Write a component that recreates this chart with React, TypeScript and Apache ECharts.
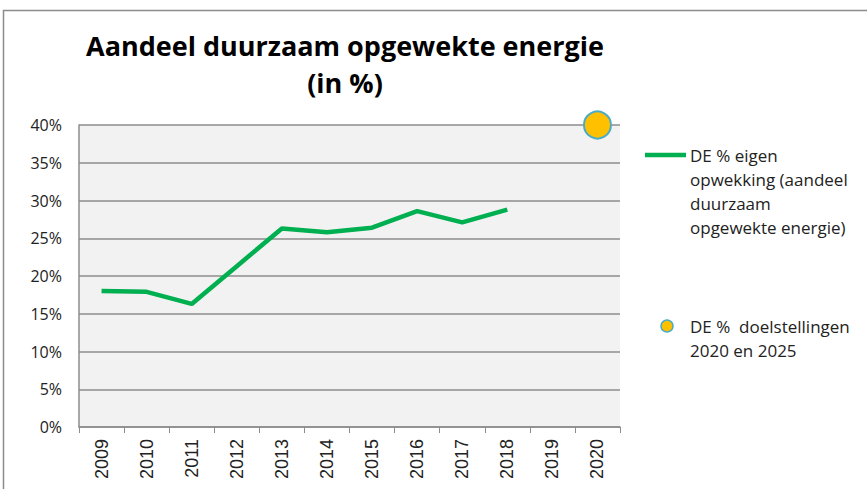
import React, { useEffect, useRef } from "react";
import * as echarts from "echarts";

const years = ["2009", "2010", "2011", "2012", "2013", "2014", "2015", "2016", "2017", "2018", "2019", "2020"];
const eigenOpwekking = [18.0, 17.9, 16.3, 21.3, 26.3, 25.8, 26.4, 28.6, 27.1, 28.8, null, null];
const doelstellingen = [null, null, null, null, null, null, null, null, null, null, null, 40];
const titleLines = ["Aandeel duurzaam opgewekte energie", "(in %)"];
const legendLine = ["DE % eigen", "opwekking (aandeel", "duurzaam", "opgewekte energie)"];
const legendDot = ["DE %  doelstellingen", "2020 en 2025"];

const FONT = "'Open Sans', sans-serif";

export default function App() {
  const ref = useRef<HTMLDivElement>(null);
  useEffect(() => {
    document.body.style.margin = "0";
    const chart = echarts.init(ref.current!, null, { renderer: "svg" });
    chart.setOption({
      animation: false,
      backgroundColor: "#ffffff",
      grid: { left: 79, right: 247, top: 125, bottom: 62, show: true, backgroundColor: "#f2f2f2", borderWidth: 0 },
      xAxis: {
        type: "category",
        data: years,
        boundaryGap: true,
        axisLine: { lineStyle: { color: "#8c8c8c", width: 1.5 } },
        axisTick: { show: true, length: 6, lineStyle: { color: "#8c8c8c" } },
        axisLabel: { rotate: 90, color: "#222", fontSize: 18, fontFamily: "'Liberation Sans', Arial, sans-serif", margin: 12 },
      },
      yAxis: {
        type: "value",
        min: 0,
        max: 40,
        interval: 5,
        axisLine: { show: true, lineStyle: { color: "#8c8c8c", width: 1.5 } },
        axisTick: { show: false },
        splitLine: { lineStyle: { color: "#8c8c8c", width: 1.5 } },
        axisLabel: { formatter: "{value}%", color: "#222", fontSize: 16, fontFamily: FONT, margin: 17 },
      },
      series: [
        {
          name: "DE % eigen opwekking",
          type: "line",
          data: eigenOpwekking,
          showSymbol: false,
          connectNulls: false,
          lineStyle: { color: "#00B050", width: 4.5 },
          itemStyle: { color: "#00B050" },
        },
        {
          name: "DE % doelstellingen",
          type: "scatter",
          data: doelstellingen,
          symbolSize: 27,
          clip: false,
          z: 5,
          itemStyle: { color: "#FFC000", borderColor: "#4BACC6", borderWidth: 2, opacity: 1 },
        },
      ],
      graphic: [
        {
          type: "rect",
          shape: { x: 3.5, y: 10.5, width: 1000, height: 1000 },
          style: { fill: "none", stroke: "#8c8c8c", lineWidth: 1.5 },
          silent: true,
        },
        {
          type: "text",
          x: 345,
          y: 45,
          style: { text: titleLines[0], fontSize: 27, fontWeight: "bold", fontFamily: FONT, fill: "#000", align: "center", verticalAlign: "middle" },
        },
        {
          type: "text",
          x: 345,
          y: 82,
          style: { text: titleLines[1], fontSize: 27, fontWeight: "bold", fontFamily: FONT, fill: "#000", align: "center", verticalAlign: "middle" },
        },
        {
          type: "line",
          shape: { x1: 645, y1: 155, x2: 686, y2: 155 },
          style: { stroke: "#00B050", lineWidth: 4.5 },
        },
        ...legendLine.map((t, i) => ({
          type: "text",
          x: 690,
          y: 155 + i * 24.3,
          style: { text: t, fontSize: 17, fontFamily: FONT, fill: "#222", verticalAlign: "middle" },
        })),
        {
          type: "circle",
          shape: { cx: 667, cy: 326, r: 6 },
          style: { fill: "#FFC000", stroke: "#4BACC6", lineWidth: 1.5 },
        },
        ...legendDot.map((t, i) => ({
          type: "text",
          x: 690,
          y: 326 + i * 24.3,
          style: { text: t, fontSize: 17, fontFamily: FONT, fill: "#222", verticalAlign: "middle" },
        })),
      ],
    });
    return () => chart.dispose();
  }, []);
  return <div ref={ref} style={{ width: 867, height: 489 }} />;
}
